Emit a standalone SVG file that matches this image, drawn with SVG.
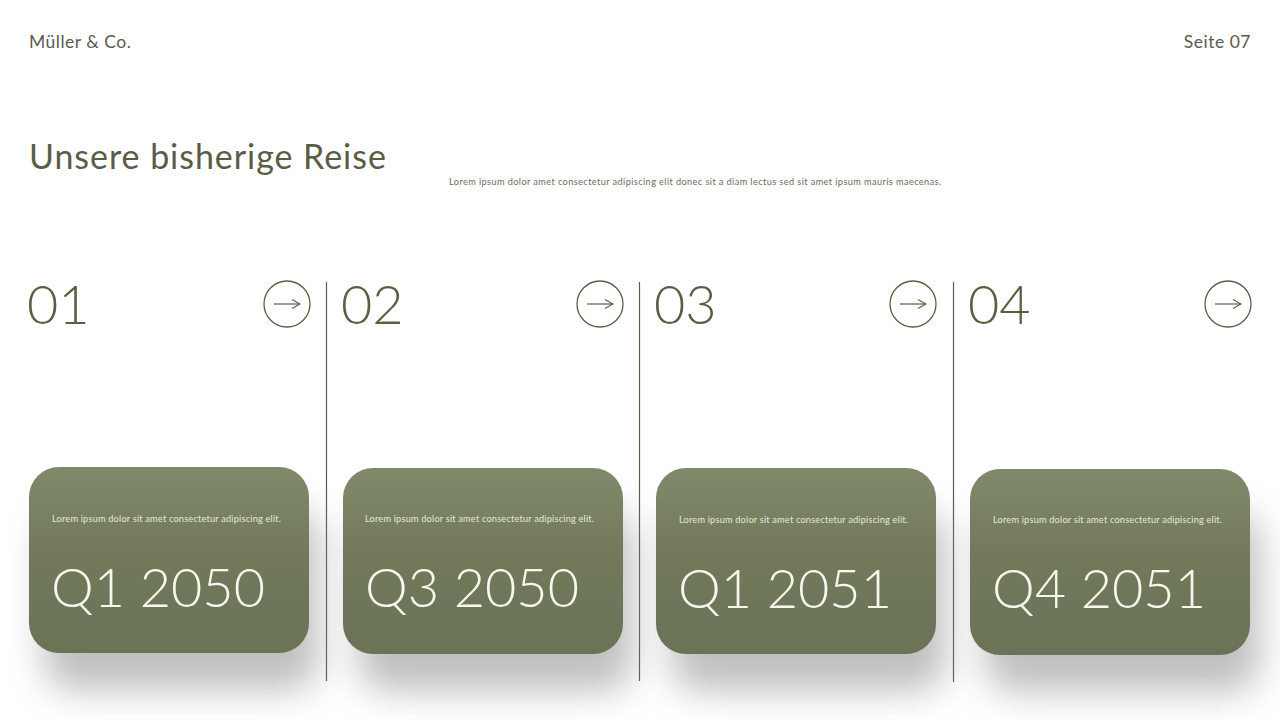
<svg xmlns="http://www.w3.org/2000/svg" width="1280" height="720" viewBox="0 0 1280 720">
<defs>
<linearGradient id="cg" x1="0" y1="0" x2="0" y2="1">
<stop offset="0" stop-color="#808a6a"/>
<stop offset="0.45" stop-color="#727a5b"/>
<stop offset="1" stop-color="#6b7357"/>
</linearGradient>
<filter id="sh" x="-40%" y="-40%" width="180%" height="200%">
<feGaussianBlur stdDeviation="18"/>
</filter>
<marker id="ah" viewBox="0 0 10 10" refX="9" refY="5" markerWidth="10" markerHeight="10" markerUnits="userSpaceOnUse" orient="auto">
<path d="M1,0.5 L9,5 L1,9.5" fill="none" stroke="#5b5e45" stroke-width="1.1"/>
</marker>
<style>
.hdr{font-family:"Lato","Noto Sans",sans-serif;font-size:17.5px;fill:#5a5a52;letter-spacing:0.5px}
.title{font-family:"Lato","Noto Sans",sans-serif;font-size:34px;fill:#5a5d46;letter-spacing:0.95px}
.sub{font-family:"Lato","Noto Sans",sans-serif;font-size:9.2px;fill:#6a6a62;letter-spacing:0.4px}
.num{font-family:"Lato","Noto Sans",sans-serif;font-size:54px;fill:#5b5f41;font-weight:300}
.circ{fill:none;stroke:#5b5e45;stroke-width:1.3}
.arr{stroke:#5b5e45;stroke-width:1.2;fill:none}
.div{stroke:#5b5e45;stroke-width:1.2}
.card{fill:url(#cg)}
.shadow{fill:#8a8a8a;opacity:0.55}
.ct{font-family:"Lato","Noto Sans",sans-serif;font-size:9.2px;fill:#e6e8da;letter-spacing:0.2px}
.q{font-family:"Lato","Noto Sans",sans-serif;font-size:54px;fill:#f7f7ee;font-weight:300}
</style>
</defs>
<rect width="1280" height="720" fill="#ffffff"/>
<text class="hdr" x="29" y="48">Müller &amp; Co.</text>
<text class="hdr" x="1251" y="48" text-anchor="end">Seite 07</text>
<text class="title" x="29" y="169">Unsere bisherige Reise</text>
<text class="sub" x="449" y="185">Lorem ipsum dolor amet consectetur adipiscing elit donec  sit a diam lectus sed sit amet ipsum mauris maecenas.</text>

<g id="connectors">
<line class="div" x1="326.5" y1="282" x2="326.5" y2="681"/>
<line class="div" x1="639.5" y1="282" x2="639.5" y2="681"/>
<line class="div" x1="953.5" y1="282" x2="953.5" y2="682"/>
</g>

<g id="step1">
<text class="num" x="27" y="324">01</text>
<circle class="circ" cx="287" cy="304" r="23"/>
<line class="arr" x1="274" y1="304" x2="300" y2="304" marker-end="url(#ah)"/>
<rect class="shadow" x="44" y="510" width="275" height="180" rx="30" filter="url(#sh)"/>
<rect class="card" x="29" y="467" width="280" height="186" rx="30"/>
<text class="ct" x="52" y="522">Lorem ipsum dolor sit amet consectetur adipiscing elit.</text>
<text class="q" x="51" y="607">Q1 2050</text>
</g>

<g id="step2">
<text class="num" x="341" y="324">02</text>
<circle class="circ" cx="600" cy="304" r="23"/>
<line class="arr" x1="587" y1="304" x2="613" y2="304" marker-end="url(#ah)"/>
<rect class="shadow" x="358" y="511" width="275" height="180" rx="30" filter="url(#sh)"/>
<rect class="card" x="343" y="468" width="280" height="186" rx="30"/>
<text class="ct" x="365" y="522">Lorem ipsum dolor sit amet consectetur adipiscing elit.</text>
<text class="q" x="365" y="607">Q3 2050</text>
</g>

<g id="step3">
<text class="num" x="654" y="324">03</text>
<circle class="circ" cx="913" cy="304" r="23"/>
<line class="arr" x1="900" y1="304" x2="926" y2="304" marker-end="url(#ah)"/>
<rect class="shadow" x="671" y="511" width="275" height="180" rx="30" filter="url(#sh)"/>
<rect class="card" x="656" y="468" width="280" height="186" rx="30"/>
<text class="ct" x="679" y="523">Lorem ipsum dolor sit amet consectetur adipiscing elit.</text>
<text class="q" x="678" y="608">Q1 2051</text>
</g>

<g id="step4">
<text class="num" x="968" y="324">04</text>
<circle class="circ" cx="1228" cy="304" r="23"/>
<line class="arr" x1="1215" y1="304" x2="1241" y2="304" marker-end="url(#ah)"/>
<rect class="shadow" x="985" y="512" width="275" height="180" rx="30" filter="url(#sh)"/>
<rect class="card" x="970" y="469" width="280" height="186" rx="30"/>
<text class="ct" x="993" y="523">Lorem ipsum dolor sit amet consectetur adipiscing elit.</text>
<text class="q" x="992" y="608">Q4 2051</text>
</g>
</svg>
